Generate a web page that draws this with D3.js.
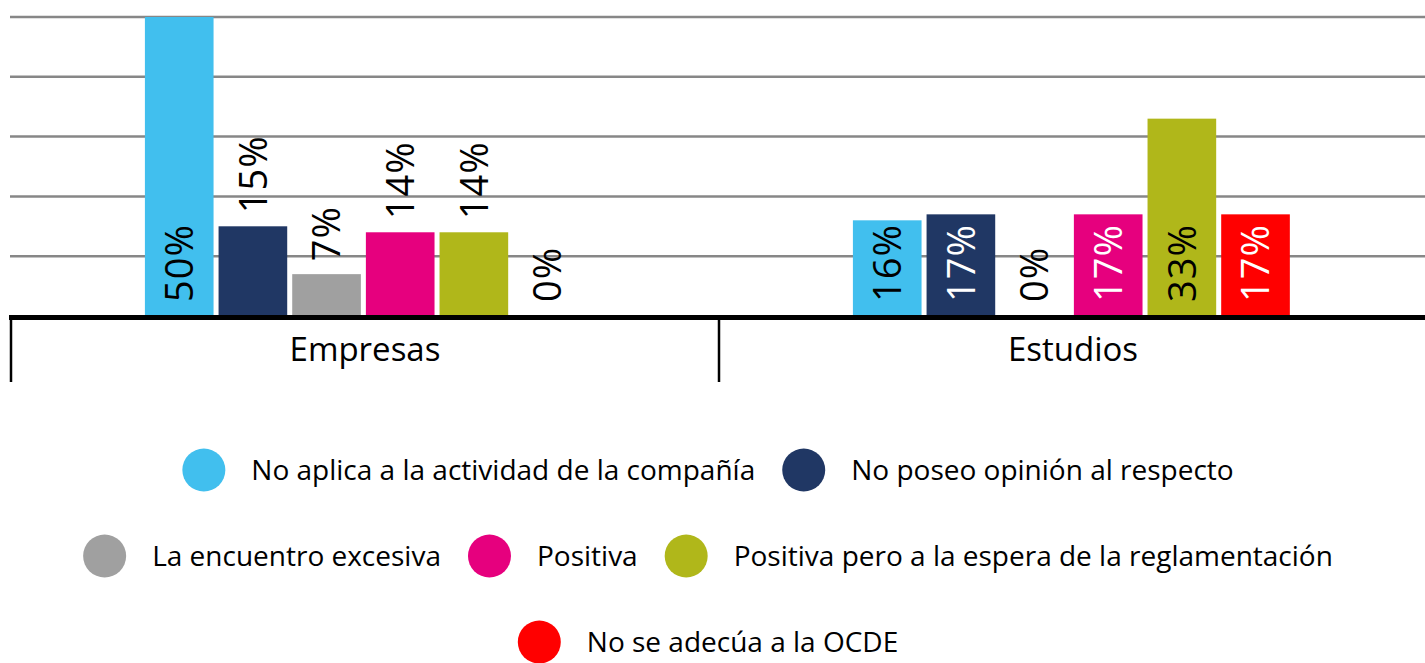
<!DOCTYPE html>
<html>
<head>
<meta charset="utf-8">
<script src="https://cdn.jsdelivr.net/npm/d3@7"></script>
<style>
  body { margin: 0; background: #fff; }
  svg { display: block; font-family: "Open Sans", sans-serif; }
</style>
</head>
<body>
<svg width="1425" height="663"></svg>
<script>
// Data
const categories = ["Empresas", "Estudios"];
const series = [
    "No aplica a la actividad de la compañía",
    "No poseo opinión al respecto",
    "La encuentro excesiva",
    "Positiva",
    "Positiva pero a la espera de la reglamentación",
    "No se adecúa a la OCDE"
];
const empresasValues = [50, 15, 7, 14, 14, 0];
const estudiosValues = [16, 17, 0, 17, 33, 17];
// where Excel put each label: "base" = inside base, "end" = outside end
const empresasLabelPos = ["base", "end", "end", "end", "end", "base"];
const estudiosLabelPos = ["base", "base", "base", "base", "base", "base"];
const colors = ["#41BFEE", "#203764", "#A0A0A0", "#E6007E", "#B0B71A", "#FF0000"];
const darkFill = ["#203764", "#E6007E", "#FF0000"];

const valuesByCat = { "Empresas": empresasValues, "Estudios": estudiosValues };
const labelPosByCat = { "Empresas": empresasLabelPos, "Estudios": estudiosLabelPos };

const svg = d3.select("svg");

const plot = { left: 11, right: 1427, top: 17, bottom: 316 };

const x0 = d3.scaleBand()
    .domain(categories)
    .range([plot.left, plot.right]);

const x1 = d3.scaleBand()
    .domain(series)
    .range([0, x0.bandwidth()])
    .paddingInner(0.068)
    .paddingOuter(1.84)
    .align(0.494);

const y = d3.scaleLinear()
    .domain([0, 50])
    .range([plot.bottom, plot.top]);

const color = d3.scaleOrdinal().domain(series).range(colors);

// gridlines
svg.append("g")
    .selectAll("line")
    .data(y.ticks(5).filter(d => d > 0))
    .enter()
    .append("line")
    .attr("x1", plot.left - 1)
    .attr("x2", plot.right)
    .attr("y1", d => y(d))
    .attr("y2", d => y(d))
    .style("stroke", "#878787")
    .style("stroke-width", 2.5);

// bars
const rows = categories.map(c => ({
    cat: c,
    items: series.map((s, i) => ({ s, v: valuesByCat[c][i], pos: labelPosByCat[c][i] }))
}));

const groups = svg.selectAll(".grp")
    .data(rows)
    .enter()
    .append("g")
    .attr("class", "grp")
    .attr("transform", d => `translate(${x0(d.cat)},0)`);

groups.selectAll("rect")
    .data(d => d.items)
    .enter()
    .append("rect")
    .attr("x", d => x1(d.s))
    .attr("width", x1.bandwidth())
    .attr("y", d => y(d.v))
    .attr("height", d => y(0) - y(d.v))
    .style("fill", d => color(d.s));

// value labels, rotated
groups.selectAll("text")
    .data(d => d.items)
    .enter()
    .append("text")
    .attr("transform", d => {
        const cx = x1(d.s) + x1.bandwidth() / 2;
        const yy = d.pos === "end" ? y(d.v) - 13 : y(0) - 14;
        return `translate(${cx},${yy}) rotate(-90)`;
    })
    .attr("dy", "0.36em")
    .style("font-size", "38px")
    .style("letter-spacing", "1px")
    .style("fill", d => d.pos === "base" && d.v > 0 && darkFill.includes(color(d.s)) ? "#fff" : "#000")
    .text(d => d.v + "%");

// baseline & category axis
svg.append("line")
    .attr("x1", plot.left - 2)
    .attr("x2", plot.right)
    .attr("y1", y(0) + 1.5)
    .attr("y2", y(0) + 1.5)
    .style("stroke", "#000")
    .style("stroke-width", 5);

svg.append("g")
    .selectAll("line")
    .data(categories.concat(["end"]))
    .enter()
    .append("line")
    .attr("x1", d => d === "end" ? plot.right : x0(d))
    .attr("x2", d => d === "end" ? plot.right : x0(d))
    .attr("y1", y(0))
    .attr("y2", 382)
    .style("stroke", "#000")
    .style("stroke-width", 2.5);

svg.append("g")
    .selectAll("text")
    .data(categories)
    .enter()
    .append("text")
    .attr("x", d => x0(d) + x0.bandwidth() / 2)
    .attr("y", 361)
    .attr("text-anchor", "middle")
    .style("font-size", "33px")
    .style("fill", "#000")
    .text(d => d);

// legend, flowed into centred rows
const legend = svg.append("g");
const r = 21.5, gapText = 26, gapItem = 27, maxW = 1300, rowH = 86, legendTop = 470, cxAll = 708;

const items = legend.selectAll(".li")
    .data(series)
    .enter()
    .append("g")
    .attr("class", "li");

items.append("circle")
    .attr("r", r)
    .attr("cx", r)
    .style("fill", d => color(d));

items.append("text")
    .attr("x", 2 * r + gapText)
    .attr("dy", "0.35em")
    .style("font-size", "28px")
    .style("fill", "#000")
    .text(d => d);

const widths = [];
items.each(function () { widths.push(this.getBBox().width); });

const legendRows = [[]];
let rowW = 0;
widths.forEach((w, i) => {
    const add = legendRows[legendRows.length - 1].length ? gapItem + w : w;
    if (rowW + add > maxW) {
        legendRows.push([i]);
        rowW = w;
    } else {
        legendRows[legendRows.length - 1].push(i);
        rowW += add;
    }
});

legendRows.forEach((row, ri) => {
    const total = d3.sum(row, i => widths[i]) + gapItem * (row.length - 1);
    let xx = cxAll - total / 2;
    row.forEach(i => {
        items.filter((d, j) => j === i)
            .attr("transform", `translate(${xx},${legendTop + ri * rowH})`);
        xx += widths[i] + gapItem;
    });
});
</script>
</body>
</html>
